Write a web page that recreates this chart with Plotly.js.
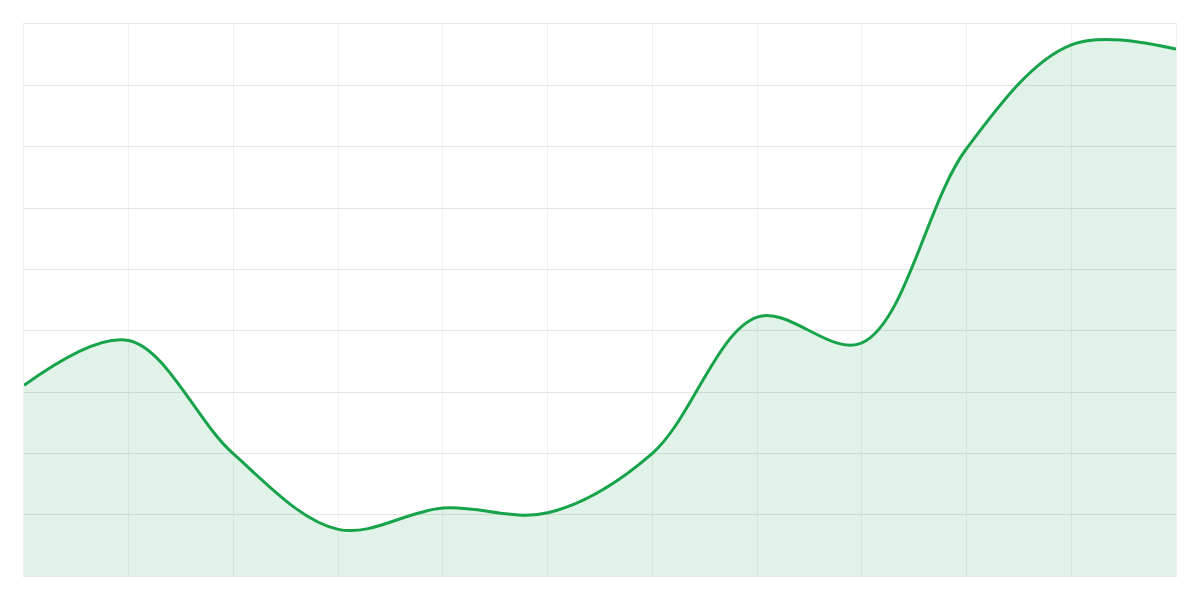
<!DOCTYPE html>
<html>
<head>
<meta charset="utf-8">
<script src="https://cdn.plot.ly/plotly-3.0.1.min.js"></script>
<style>html,body{margin:0;padding:0;background:#fff;}#chart{width:1200px;height:600px;}</style>
</head>
<body>
<div id="chart"></div>
<script>
const categories = ["Jan","Feb","Mar","Apr","May","Jun","Jul","Aug","Sep","Oct","Nov","Dec"];
const values = [31.1, 38.4, 19.9, 7.6, 11.1, 10.3, 20.0, 42.2, 38.0, 69.7, 86.6, 85.9];

const trace = {
  x: categories,
  y: values,
  type: 'scatter',
  mode: 'lines',
  line: {color: '#16a34a', width: 3, shape: 'spline', smoothing: 1},
  fill: 'tozeroy',
  fillcolor: 'rgba(22,163,74,0.13)',
  hoverinfo: 'x+y'
};

const layout = {
  width: 1200,
  height: 600,
  margin: {l: 24, r: 24, t: 24, b: 24},
  paper_bgcolor: '#ffffff',
  plot_bgcolor: '#ffffff',
  showlegend: false,
  xaxis: {
    type: 'category',
    range: [0, categories.length - 1],
    showgrid: true,
    gridcolor: '#f0f0f0',
    gridwidth: 1,
    showticklabels: false,
    ticks: '',
    zeroline: false,
    showline: true,
    linecolor: '#e8e8e8',
    linewidth: 1,
    mirror: true
  },
  yaxis: {
    range: [0, 90],
    dtick: 10,
    tick0: 0,
    showgrid: true,
    gridcolor: '#e5e5e5',
    gridwidth: 1,
    showticklabels: false,
    ticks: '',
    zeroline: false,
    showline: true,
    linecolor: '#eeeeee',
    linewidth: 1,
    mirror: true
  }
};

Plotly.newPlot('chart', [trace], layout, {displayModeBar: false, staticPlot: true});
</script>
</body>
</html>
